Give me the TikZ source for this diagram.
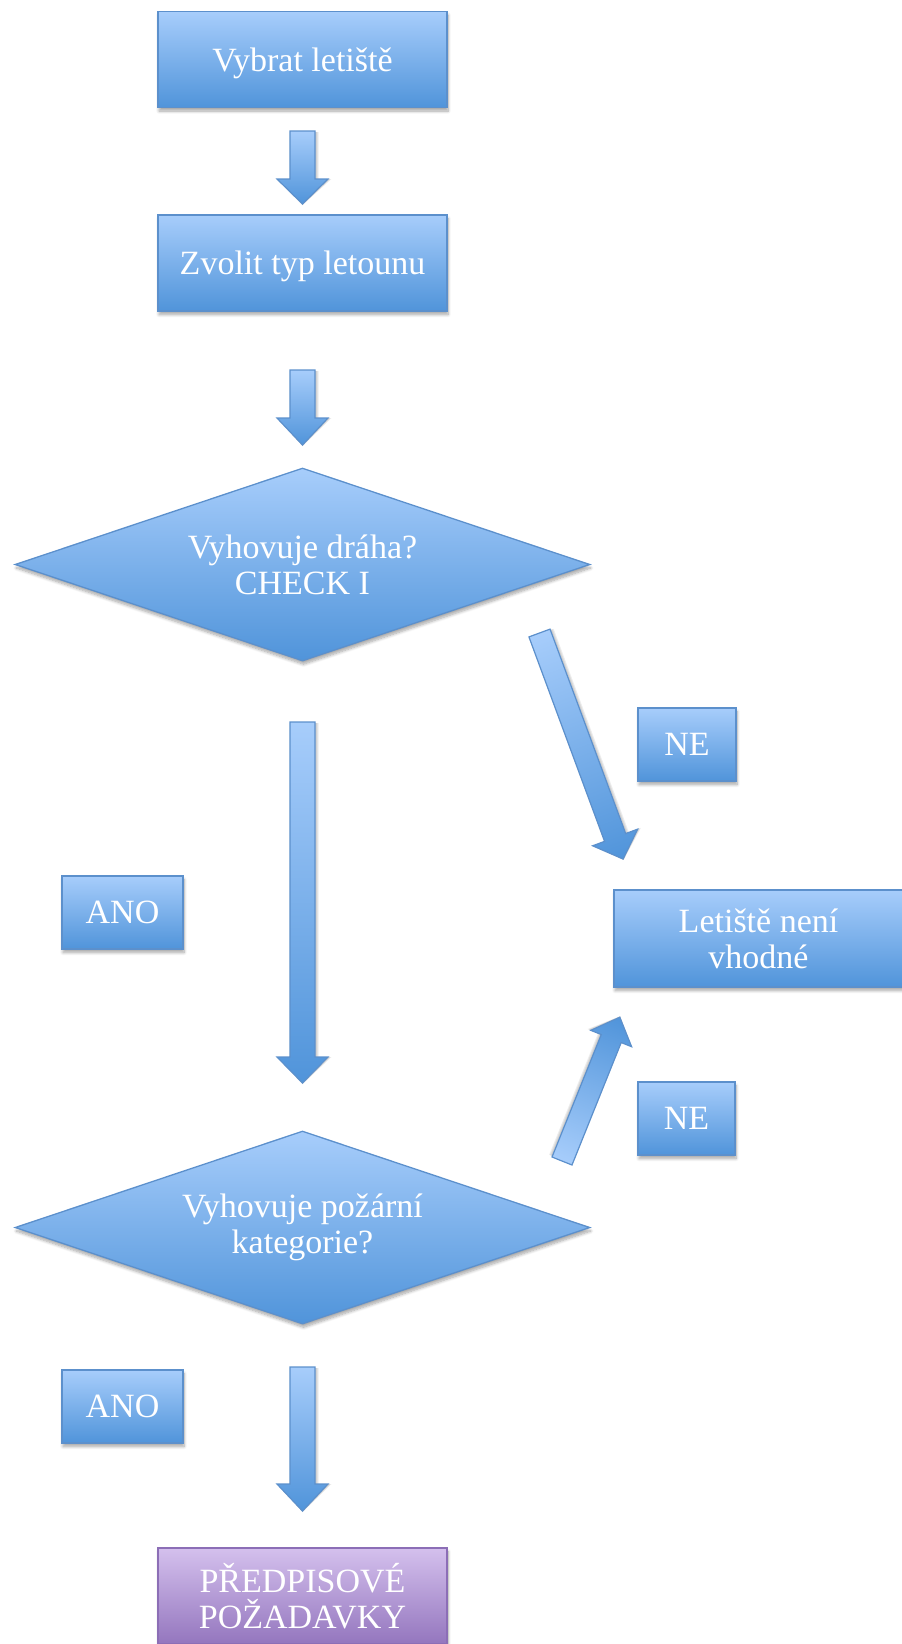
\documentclass[tikz,border=0pt]{standalone}
\usepackage{fontspec}
\setmainfont{Liberation Serif}
\usetikzlibrary{shapes.geometric,shadows.blur}

\definecolor{bluetop}{RGB}{167,205,251}
\definecolor{bluebot}{RGB}{80,148,218}
\definecolor{blueline}{RGB}{92,144,204}
\definecolor{purtop}{RGB}{212,192,237}
\definecolor{purbot}{RGB}{148,118,190}
\definecolor{purline}{RGB}{140,110,182}

\tikzset{
  softshadow/.style={blur shadow={shadow xshift=1pt, shadow yshift=-3.5pt, shadow blur radius=3pt,
    shadow blur steps=8, shadow opacity=35}},
  box/.style={rectangle, draw=blueline, line width=1.3pt, top color=bluetop, bottom color=bluebot,
    text=white, align=center, inner sep=0pt, font=\fontsize{34}{36}\selectfont, softshadow},
  purplebox/.style={box, draw=purline, top color=purtop, bottom color=purbot},
  decision/.style={diamond, aspect=3, draw=blueline, line width=1.3pt, top color=bluetop, bottom color=bluebot,
    text=white, align=center, inner sep=0pt, font=\fontsize{34}{36}\selectfont, softshadow,
    minimum width=575pt, minimum height=193pt},
  arrowbody/.style={draw=blueline, line width=1.2pt, left color=bluetop, right color=bluebot,
    line join=miter},
}

% block arrow: centre of tail (#1,#2), direction angle #3, length #4,
% shaft width #5, head width #6, head length #7
\newcommand\blockarrow[7]{%
  \begin{scope}[transform canvas={shift={(#1,#2)}, rotate=#3}]
    \foreach \g in {3.5,2.5,1.5}{
      \fill[black, opacity=0.07] (1pt,{-#5/2-\g}) -- ({#4-#7},{-#5/2-\g}) -- ({#4-#7},{-#6/2-\g})
        -- (#4+1,0) -- ({#4-#7},{#6/2+\g-3}) -- ({#4-#7},{#5/2+\g-3}) -- (1pt,{#5/2+\g-3}) -- cycle;}
    \path[arrowbody] (0,{-#5/2}) -- ({#4-#7},{-#5/2}) -- ({#4-#7},{-#6/2})
      -- (#4,0) -- ({#4-#7},{#6/2}) -- ({#4-#7},{#5/2}) -- (0,{#5/2}) -- cycle;
  \end{scope}}

\begin{document}
\begin{tikzpicture}[x=1pt,y=-1pt]
  \useasboundingbox (0,0) rectangle (902,1644);

  % process boxes
  \node[box, text depth=0pt, minimum width=289pt, minimum height=96pt] (pick) at (302.5,59.5) {Vybrat letiště};
  \node[box, text depth=0pt, minimum width=289pt, minimum height=96pt] (plane) at (302.5,263) {Zvolit typ letounu};

  % decisions
  \node[decision] (runway) at (302.5,564.5) {Vyhovuje dráha?\\CHECK I};
  \node[decision] (fire) at (302.5,1227.5) {Vyhovuje požární\\kategorie?};

  % outcome boxes
  \node[box, minimum width=289pt, minimum height=97pt] (unfit) at (758.5,938.5) {Letiště není\\vhodné};
  \node[purplebox, minimum width=289pt, minimum height=96pt] (rules) at (302.5,1596) {PŘEDPISOVÉ\\POŽADAVKY};

  % answer labels
  \node[box, minimum width=98pt, minimum height=73pt] (no1) at (687,744.5) {NE};
  \node[box, minimum width=97pt, minimum height=73pt] (no2) at (686.5,1118.5) {NE};
  \node[box, minimum width=121pt, minimum height=73pt] (yes1) at (122.5,912.5) {ANO};
  \node[box, minimum width=121pt, minimum height=73pt] (yes2) at (122.5,1406.5) {ANO};

  % block arrows
  \blockarrow{302.5}{131}{-90}{73}{25}{51}{25}
  \blockarrow{302.5}{370}{-90}{75}{25}{51}{27}
  \blockarrow{302.5}{722}{-90}{361}{25}{51}{26}
  \blockarrow{302.5}{1367}{-90}{144}{25}{51}{27}
  \blockarrow{539.5}{633}{-69.7}{241}{22.5}{48}{23}
  \blockarrow{562}{1161}{68.1}{155}{21.5}{44}{23}
\end{tikzpicture}
\end{document}
